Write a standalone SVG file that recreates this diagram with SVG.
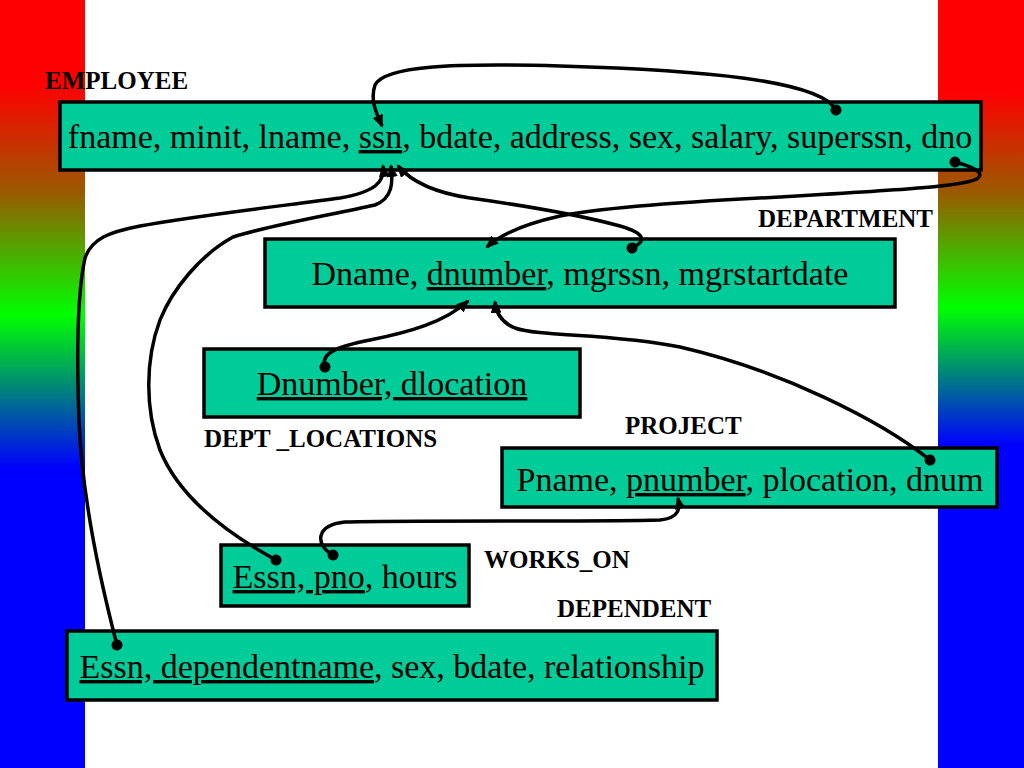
<svg xmlns="http://www.w3.org/2000/svg" width="1024" height="768" viewBox="0 0 1024 768">
<defs>
<linearGradient id="gl" x1="0" y1="0" x2="0" y2="1">
<stop offset="0" stop-color="#ff0000"/>
<stop offset="0.11" stop-color="#ff0000"/>
<stop offset="0.25" stop-color="#9a5a00"/>
<stop offset="0.41" stop-color="#00ff00"/>
<stop offset="0.61" stop-color="#0000ff"/>
<stop offset="1" stop-color="#0000ff"/>
</linearGradient>
<linearGradient id="gr" x1="0" y1="0" x2="0" y2="1">
<stop offset="0" stop-color="#ff0000"/>
<stop offset="0.12" stop-color="#ff0000"/>
<stop offset="0.25" stop-color="#9a5a00"/>
<stop offset="0.4" stop-color="#00ff00"/>
<stop offset="0.58" stop-color="#0000ff"/>
<stop offset="1" stop-color="#0000ff"/>
</linearGradient>
<marker id="arr" markerUnits="userSpaceOnUse" markerWidth="14" markerHeight="12" refX="11" refY="5.5" orient="auto">
<path d="M0,0 L13,5.5 L0,11 z" fill="#000"/>
</marker>
<marker id="dot" markerUnits="userSpaceOnUse" markerWidth="12" markerHeight="12" refX="6" refY="6" orient="auto">
<circle cx="6" cy="6" r="5.5" fill="#000"/>
</marker>
</defs>
<style>
.box{fill:#00cc99;stroke:#000;stroke-width:3.5}
.t{font-family:"Liberation Serif","Times New Roman",serif;font-size:34px;fill:#000;text-anchor:middle}
.lbl{font-family:"Liberation Serif","Times New Roman",serif;font-size:25px;font-weight:bold;fill:#000}
.u{text-decoration:underline}
.c{fill:none;stroke:#000;stroke-width:3.5;marker-start:url(#dot);marker-end:url(#arr)}
</style>
<rect x="0" y="0" width="1024" height="768" fill="#fff"/>
<rect x="0" y="0" width="85" height="768" fill="url(#gl)"/>
<rect x="938" y="0" width="86" height="768" fill="url(#gr)"/>

<g id="employee">
<text class="lbl" x="45" y="89">EMPLOYEE</text>
<rect class="box" x="60" y="102" width="921" height="68"/>
<text class="t" x="520" y="148">fname, minit, lname, <tspan class="u">ssn</tspan>, bdate, address, sex, salary, superssn, dno</text>
</g>
<g id="department">
<text class="lbl" x="758" y="227">DEPARTMENT</text>
<rect class="box" x="265" y="239" width="630" height="68"/>
<text class="t" x="580" y="285">Dname, <tspan class="u">dnumber</tspan>, mgrssn, mgrstartdate</text>
</g>
<g id="dept_locations">
<rect class="box" x="204" y="349" width="376" height="68"/>
<text class="t" x="392" y="395"><tspan class="u">Dnumber, dlocation</tspan></text>
<text class="lbl" x="204" y="447">DEPT _LOCATIONS</text>
</g>
<g id="project">
<text class="lbl" x="625" y="434">PROJECT</text>
<rect class="box" x="502" y="448" width="495" height="59"/>
<text class="t" x="750" y="491">Pname, <tspan class="u">pnumber</tspan>, plocation, dnum</text>
</g>
<g id="works_on">
<rect class="box" x="221" y="545" width="248" height="61"/>
<text class="t" x="345" y="588"><tspan class="u">Essn, pno</tspan>, hours</text>
<text class="lbl" x="484" y="568">WORKS_ON</text>
</g>
<g id="dependent">
<text class="lbl" x="557" y="617">DEPENDENT</text>
<rect class="box" x="67" y="631" width="650" height="69"/>
<text class="t" x="392" y="678"><tspan class="u">Essn, dependentname</tspan>, sex, bdate, relationship</text>
</g>

<g id="connectors">
<path class="c" d="M836,110 C820,80 700,70 560,66 C450,63 385,66 375,85 C370,100 376,112 382,126"/>
<path class="c" d="M955,162 C970,166 985,172 978,178 C970,186 900,190 780,197 C680,202 600,208 560,216 C520,225 500,235 487,247"/>
<path class="c" d="M632,248 C645,242 648,234 620,226 C580,215 520,205 470,198 C430,192 410,180 398,166"/>
<path class="c" d="M276,560 C230,535 180,500 160,450 C145,410 145,360 160,320 C172,290 200,255 233,237 C270,225 330,215 375,205 C393,198 393,182 391,166"/>
<path class="c" d="M117,645 C100,580 82,500 79,420 C76,340 78,290 85,258 C92,238 110,232 140,226 C200,215 290,205 340,198 C375,192 385,182 383,166"/>
<path class="c" d="M325,367 C320,352 340,346 370,340 C410,332 445,322 468,301"/>
<path class="c" d="M930,460 C880,420 780,370 680,347 C610,333 540,337 515,328 C500,322 496,312 495,302"/>
<path class="c" d="M333,555 C315,545 315,525 345,522 C400,520 600,522 660,520 C680,518 680,508 678,498"/>
</g>
</svg>
